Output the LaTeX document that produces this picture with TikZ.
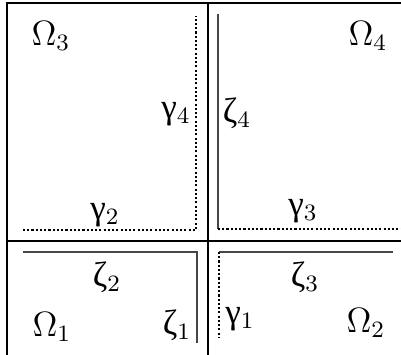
\documentclass[tikz,border=0pt]{standalone}
\usepackage{fontspec}
\usepackage{amsmath,amssymb}
\usepackage{xcolor}
\newfontfamily\grk{Liberation Serif}
\definecolor{edgegray}{RGB}{70,70,70}
\tikzset{
  frame/.style={line width=0.6pt, black},
  midline/.style={line width=0.75pt, black},
  zline/.style={line width=0.45pt, edgegray},
  gline/.style={line width=0.6pt, black, dash pattern=on 0.7pt off 0.75pt},
  lbl/.style={font=\large},
}

\begin{document}
\begin{tikzpicture}[x=0.48cm, y=0.48cm]
    \useasboundingbox (0,0) rectangle (10.025,8.875);

    % Outer frame and the cross
    \draw[frame] (10.025,8.8) -- (0.175,8.8) -- (0.175,0);
    \draw[midline] (5.2,8.8) -- (5.2,0);
    \draw[frame] (0.175,2.85) -- (10.025,2.85);

    % Omega_3: dotted gamma_2, gamma_4
    \draw[gline] (0.575,3.125) -- (4.9,3.125) -- (4.9,8.475);
    \node[lbl] (om3) at (1.275,7.975) {$\Omega_3$};
    \node[lbl] (ga4) at (4.4,6.025) {{\grk γ}$_4$};
    \node[lbl] (ga2) at (2.625,3.5) {{\grk γ}$_2$};

    % Omega_4: solid zeta_4, dotted gamma_3
    \draw[zline] (5.45,8.525) -- (5.45,3.15);
    \draw[gline] (5.45,3.15) -- (10.025,3.15);
    \node[lbl] (om4) at (9.2,7.975) {$\Omega_4$};
    \node[lbl] (ze4) at (5.925,6.05) {{\grk ζ}$_4$};
    \node[lbl] (ga3) at (7.575,3.6) {{\grk γ}$_3$};

    % Omega_1: solid zeta_2, zeta_1
    \draw[zline] (0.575,2.575) -- (4.925,2.575) -- (4.925,0.3);
    \node[lbl] (ze2) at (2.675,1.95) {{\grk ζ}$_2$};
    \node[lbl] (om1) at (1.3,0.7) {$\Omega_1$};
    \node[lbl] (ze1) at (4.425,0.75) {{\grk ζ}$_1$};

    % Omega_2: solid zeta_3, dotted gamma_1
    \draw[zline] (5.475,2.575) -- (9.825,2.575);
    \draw[gline] (5.475,2.575) -- (5.475,0.45);
    \node[lbl] (ze3) at (7.625,1.95) {{\grk ζ}$_3$};
    \node[lbl] (ga1) at (6.0,0.9) {{\grk γ}$_1$};
    \node[lbl] (om2) at (9.15,0.8) {$\Omega_2$};
\end{tikzpicture}
\end{document}
